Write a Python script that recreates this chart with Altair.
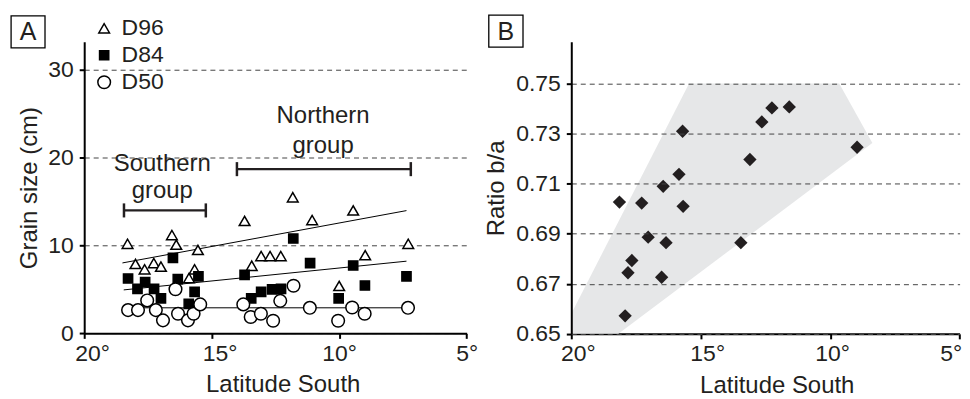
import altair as alt
import pandas as pd

FONT = "Liberation Sans"
TXT = "#231f20"

# ---------------- Panel A data ----------------
series_names = ["D96", "D84", "D50"]
series_shapes = ["triangle-up", "square", "circle"]
series_fills = ["white", "black", "white"]
series_strokes = ["black", "black", "black"]
series_sizes = [115, 85, 160]

d96_lat = [18.30, 17.99, 17.63, 17.27, 16.99, 16.56, 16.39, 15.89, 15.67, 15.54, 13.71,
           13.43, 13.06, 12.71, 12.29, 11.82, 11.06, 10.00, 9.45, 8.98, 7.29]
d96_val = [10.2, 7.9, 7.3, 8.0, 7.6, 11.2, 10.1, 6.3, 7.3, 9.5, 12.8,
           7.7, 8.8, 8.8, 8.8, 15.5, 12.9, 5.4, 14.0, 8.9, 10.2]

d84_lat = [18.28, 17.91, 17.61, 17.26, 16.99, 16.52, 16.33, 15.90, 15.67, 15.52, 13.71,
           13.45, 13.06, 12.63, 12.28, 11.80, 11.14, 10.02, 9.45, 8.99, 7.36]
d84_val = [6.25, 5.07, 5.83, 5.07, 3.98, 8.59, 6.17, 3.36, 4.73, 6.48, 6.66,
           3.98, 4.73, 5.0, 5.07, 10.8, 7.99, 3.98, 7.73, 5.45, 6.48]

d50_lat = [18.28, 17.89, 17.53, 17.19, 16.91, 16.42, 16.32, 15.93, 15.71, 15.45, 13.76,
           13.47, 13.07, 12.59, 12.31, 11.79, 11.15, 10.04, 9.49, 9.00, 7.30]
d50_val = [2.65, 2.65, 3.75, 2.65, 1.48, 5.03, 2.23, 1.48, 2.23, 3.3, 3.3,
           1.87, 2.23, 1.44, 3.7, 5.42, 2.91, 1.44, 2.95, 2.23, 2.91]

trend_series = ["D96", "D84", "D50"]
trend_lat_start = [18.5, 18.45, 18.5]
trend_lat_end = [7.36, 7.36, 7.36]
trend_val_start = [8.02, 4.95, 2.91]
trend_val_end = [13.98, 8.22, 2.91]

bracket_names = ["Southern group", "Northern group"]
bracket_lat_start = [18.44, 14.01]
bracket_lat_end = [15.23, 7.19]
bracket_val = [14.0, 18.7]
bracket_cap = 0.8

label_text = ["Southern", "group", "Northern", "group"]
label_lat = [16.94, 16.94, 10.63, 10.63]
label_val = [18.52, 15.47, 23.93, 20.52]

x_ticks = [20, 15, 10, 5]
a_y_ticks = [0, 10, 20, 30]

# ---------------- Panel B data ----------------
b_lat = [18.14, 17.28, 16.45, 15.68, 17.03, 16.34, 13.45, 17.66, 17.81, 16.51, 17.92,
         15.70, 15.84, 13.10, 12.64, 12.25, 11.58, 8.96]
b_val = [0.7026, 0.7022, 0.7089, 0.7009, 0.6886, 0.6864, 0.6864, 0.6793, 0.6744, 0.6726,
         0.6572, 0.7309, 0.7137, 0.7196, 0.7346, 0.7402, 0.7406, 0.7245]

poly_lat = [20.0, 15.45, 9.65, 8.37, 18.18, 20.0]
poly_val = [0.658, 0.75, 0.75, 0.7262, 0.65, 0.65]

b_y_ticks = [0.65, 0.67, 0.69, 0.71, 0.73, 0.75]

# ---------------- frames ----------------
pts = pd.concat([
    pd.DataFrame({"series": "D96", "lat": d96_lat, "val": d96_val}),
    pd.DataFrame({"series": "D84", "lat": d84_lat, "val": d84_val}),
    pd.DataFrame({"series": "D50", "lat": d50_lat, "val": d50_val}),
], ignore_index=True)

trend = pd.DataFrame({"series": trend_series, "x1": trend_lat_start, "x2": trend_lat_end,
                      "y1": trend_val_start, "y2": trend_val_end})
brk = pd.DataFrame({"name": bracket_names, "x1": bracket_lat_start, "x2": bracket_lat_end,
                    "y": bracket_val})
caps = pd.DataFrame({
    "x": bracket_lat_start + bracket_lat_end,
    "y1": [v - bracket_cap for v in bracket_val] * 2,
    "y2": [v + bracket_cap for v in bracket_val] * 2,
})
labels = pd.DataFrame({"text": label_text, "lat": label_lat, "val": label_val})
bpts = pd.DataFrame({"lat": b_lat, "val": b_val})
poly = pd.DataFrame({"lat": poly_lat, "val": poly_val, "order": list(range(len(poly_lat)))})

WA, HA = 383.4, 292.3
WB, HB = 389.3, 292.8

xA = alt.Scale(domain=[20, 5], nice=False, zero=False)
yA = alt.Scale(domain=[0, 33.2], nice=False, zero=False)
xB = alt.Scale(domain=[20, 5], nice=False, zero=False)
yB = alt.Scale(domain=[0.65, 0.7666], nice=False, zero=False)

TICK_FS = 23
TITLE_FS = 24

xaxisA = alt.Axis(values=x_ticks, labelExpr="datum.value + '°'", title="Latitude South",
                  grid=False, tickSize=5, tickWidth=2, domainWidth=2, labelPadding=4,
                  labelOffset={"condition": {"test": "datum.value >= 15", "value": 8},
                               "value": 0},
                  labelFontSize=TICK_FS, titleFontSize=TITLE_FS, titlePadding=7.5,
                  titleX=199, labelFlush=False, labelOverlap=False)
xaxisB = alt.Axis(values=x_ticks, labelExpr="datum.value + '°'", title="Latitude South",
                  grid=False, tickSize=5, tickWidth=2, domainWidth=2, labelPadding=4,
                  labelOffset={"condition": {"test": "datum.value >= 15", "value": 6.5},
                               "value": 2},
                  labelAlign={"condition": {"test": "datum.value == 5", "value": "right"},
                              "value": "center"},
                  labelFontSize=TICK_FS, titleFontSize=TITLE_FS, titlePadding=7.5,
                  titleX=206, labelFlush=False, labelOverlap=False)

yaxisA = alt.Axis(values=a_y_ticks, title="Grain size (cm)", grid=True, gridDash=[5, 4],
                  gridColor="#444444", gridWidth=1, tickSize=5, tickWidth=2, domainWidth=2,
                  labelPadding=6, labelFontSize=TICK_FS, titleFontSize=TITLE_FS,
                  titlePadding=6)
yaxisB = alt.Axis(values=b_y_ticks, format=".2f", title="Ratio b/a", grid=True,
                  gridDash=[5, 4], gridColor="#444444", gridWidth=1, tickSize=5, tickWidth=2,
                  domainWidth=2, labelPadding=6, labelFontSize=TICK_FS,
                  titleFontSize=TITLE_FS, titlePadding=7, zindex=1)

leg = alt.Legend(title=None, orient="none", legendX=8.5, legendY=-25, labelFontSize=23,
                 labelFont=FONT, labelColor=TXT, symbolStrokeColor="black",
                 symbolStrokeWidth=1.5, rowPadding=3.0, labelOffset=6, padding=0)

trend_layer = alt.Chart(trend).mark_rule(color="black", strokeWidth=1).encode(
    x=alt.X("x1:Q", scale=xA, axis=xaxisA), x2="x2:Q",
    y=alt.Y("y1:Q", scale=yA, axis=yaxisA), y2="y2:Q")

pts_layer = alt.Chart(pts).mark_point(filled=True, strokeWidth=1.5, opacity=1).encode(
    x=alt.X("lat:Q", scale=xA),
    y=alt.Y("val:Q", scale=yA),
    shape=alt.Shape("series:N", scale=alt.Scale(domain=series_names, range=series_shapes),
                    legend=leg),
    fill=alt.Fill("series:N", scale=alt.Scale(domain=series_names, range=series_fills),
                  legend=leg),
    stroke=alt.Stroke("series:N", scale=alt.Scale(domain=series_names, range=series_strokes),
                      legend=leg),
    size=alt.Size("series:N", scale=alt.Scale(type="ordinal", domain=series_names,
                                              range=series_sizes), legend=leg),
)

brk_layer = alt.Chart(brk).mark_rule(color=TXT, strokeWidth=2.2).encode(
    x=alt.X("x1:Q", scale=xA), x2="x2:Q", y=alt.Y("y:Q", scale=yA))
cap_layer = alt.Chart(caps).mark_rule(color=TXT, strokeWidth=2.5).encode(
    x=alt.X("x:Q", scale=xA), y=alt.Y("y1:Q", scale=yA), y2="y2:Q")
lab_layer = alt.Chart(labels).mark_text(font=FONT, fontSize=24, color=TXT,
                                        baseline="alphabetic", align="center").encode(
    x=alt.X("lat:Q", scale=xA), y=alt.Y("val:Q", scale=yA), text="text:N")

boxA = alt.Chart(pd.DataFrame({"t": ["A"]})).mark_rect(fill="white", stroke="black",
                                                       strokeWidth=1.3).encode(
    x=alt.value(-73.3), x2=alt.value(-39.3), y=alt.value(-26), y2=alt.value(6))
txtA = alt.Chart(pd.DataFrame({"t": ["A"]})).mark_text(font=FONT, fontSize=25, color=TXT,
                                                       baseline="middle").encode(
    x=alt.value(-56.3), y=alt.value(-9.5), text="t:N")

panelA = alt.layer(trend_layer, brk_layer, cap_layer, lab_layer, pts_layer, boxA, txtA
                   ).properties(width=WA, height=HA)

poly_layer = alt.Chart(poly).mark_line(interpolate="linear-closed", fill="#e6e7e8",
                                       strokeOpacity=0, strokeWidth=0).encode(
    x=alt.X("lat:Q", scale=xB, axis=xaxisB),
    y=alt.Y("val:Q", scale=yB, axis=yaxisB),
    order="order:Q")
bpts_layer = alt.Chart(bpts).mark_point(shape="diamond", filled=True, color="#231f20",
                                        size=178, opacity=1).encode(
    x=alt.X("lat:Q", scale=xB), y=alt.Y("val:Q", scale=yB))
boxB = alt.Chart(pd.DataFrame({"t": ["B"]})).mark_rect(fill="white", stroke="black",
                                                       strokeWidth=1.3).encode(
    x=alt.value(-82.7), x2=alt.value(-48.4), y=alt.value(-26.7), y2=alt.value(5.3))
txtB = alt.Chart(pd.DataFrame({"t": ["B"]})).mark_text(font=FONT, fontSize=25, color=TXT,
                                                       baseline="middle").encode(
    x=alt.value(-65.6), y=alt.value(-10.2), text="t:N")

panelB = alt.layer(poly_layer, bpts_layer, boxB, txtB).properties(width=WB, height=HB)

chart = alt.hconcat(panelA, panelB, spacing=104.3, bounds="flush").resolve_legend(
    shape="independent", fill="independent", size="independent", stroke="independent"
).properties(
    padding={"left": 2.4, "top": 5.4, "right": 0, "bottom": 0},
    background="white",
).configure_view(stroke=None).configure_axis(
    domainColor="black", tickColor="black", labelColor=TXT, titleColor=TXT,
    labelFont=FONT, titleFont=FONT, titleFontWeight="normal"
)

chart.save("out.html", embed_options={"renderer": "svg", "actions": False})
